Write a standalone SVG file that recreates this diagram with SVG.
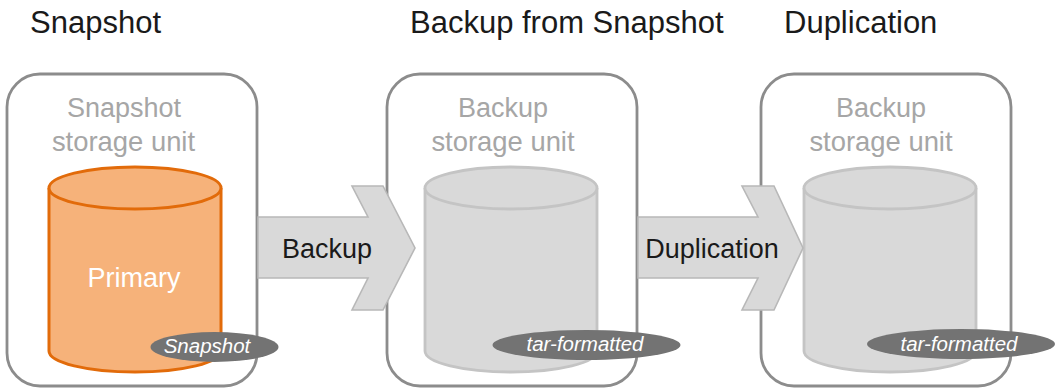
<svg xmlns="http://www.w3.org/2000/svg" width="1057" height="388" viewBox="0 0 1057 388">
<style>
text{font-family:"Liberation Sans",Arial,sans-serif;text-anchor:middle}
.title{font-size:31px;fill:#1a1a1a;text-anchor:start}
.unit{fill:#fff;stroke:#8c8c8c;stroke-width:2.8}
.lab{font-size:27px;fill:#a6a6a6}
.wide{font-size:27.4px}
.cyl{fill:#d9d9d9;stroke:#c4c4c4;stroke-width:2.8}
.cyl.o{fill:#f6b27a;stroke:#e26b0a;stroke-width:3}
.tag{fill:#737373}
.tagt{font-size:20.5px;font-style:italic;fill:#fff}
.arr{fill:#d9d9d9;stroke:#b8b8b8;stroke-width:1.6}
.arrt{font-size:27px;fill:#1a1a1a}
</style>
<defs>
<g id="cylshape">
<path d="M0 21V184A86 21 0 0 0 172 184V21"/>
<ellipse cx="86" cy="21" rx="86" ry="21"/>
</g>
</defs>
<text class="title" x="30" y="33">Snapshot</text>
<text class="title" x="410" y="33">Backup from Snapshot</text>
<text class="title" x="784" y="33">Duplication</text>
<g id="node-snapshot">
<rect class="unit" x="7" y="74" width="250" height="312" rx="33"/>
<text class="lab" x="124" y="117">Snapshot</text>
<text class="lab wide" x="123.500" y="151">storage unit</text>
<use href="#cylshape" class="cyl o" x="49" y="167"/>
<text x="134" y="287" font-size="27" fill="#fff">Primary</text>
<ellipse class="tag" cx="214.500" cy="347" rx="64" ry="15"/>
<text class="tagt" x="207" y="353">Snapshot</text>
</g>
<g id="node-backup">
<rect class="unit" x="387" y="74" width="250" height="312" rx="33"/>
<text class="lab" x="503" y="117">Backup</text>
<text class="lab wide" x="503" y="151">storage unit</text>
<use href="#cylshape" class="cyl" x="425" y="167"/>
<ellipse class="tag" cx="586.500" cy="345" rx="94" ry="15"/>
<text class="tagt" x="585" y="351">tar-formatted</text>
</g>
<g id="node-duplication">
<rect class="unit" x="761" y="74" width="250" height="312" rx="33"/>
<text class="lab" x="881" y="117">Backup</text>
<text class="lab wide" x="881" y="151">storage unit</text>
<use href="#cylshape" class="cyl" x="804" y="167"/>
<ellipse class="tag" cx="961" cy="344" rx="94" ry="15"/>
<text class="tagt" x="959" y="351">tar-formatted</text>
</g>
<g id="connectors">
<path class="arr" d="M258 217H368L352 186H383L415 248L383 310H352L368 278H258Z"/>
<text class="arrt" x="327" y="258">Backup</text>
<path class="arr" d="M638 217H758L742 186H774L803 248L774 310H742L758 278H638Z"/>
<text class="arrt" x="712" y="258">Duplication</text>
</g>
</svg>
